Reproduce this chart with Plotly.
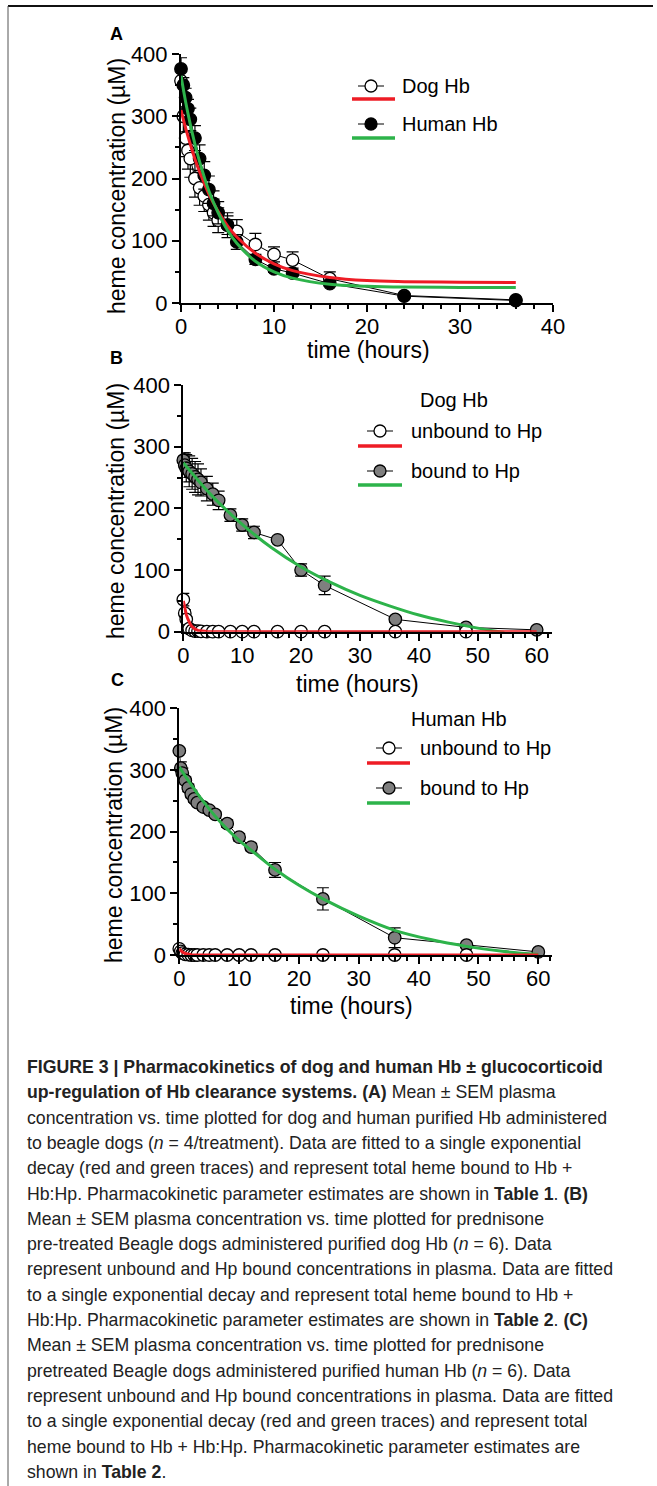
import plotly.graph_objects as go

W, H = 657, 1486
FONT = "Liberation Sans, Arial, Helvetica, sans-serif"

def px(x):
    return x / W

def py(y):
    return 1 - y / H

# ---------------- Panel A data ----------------
time_a = [0, 0.25, 0.5, 0.75, 1, 1.5, 2, 2.5, 3, 3.5, 4, 5, 6, 8, 10, 12, 16, 24, 36]
dog_a = [357, 300, 265, 245, 232, 200, 185, 172, 158, 145, 133, 125, 115, 94, 78, 69, 39, 12, 5]
dog_a_err = [20, 25, 30, 30, 30, 30, 28, 25, 25, 22, 20, 20, 19, 18, 12, 13, 11, 3, 2]
human_a = [376, 350, 330, 312, 295, 265, 232, 205, 182, 160, 145, 125, 98, 70, 55, 48, 31, 11, 4]
human_a_err = [18, 12, 15, 15, 18, 20, 22, 22, 22, 20, 18, 15, 12, 8, 6, 5, 4, 3, 2]
fit_time_a = [0, 0.5, 1, 1.5, 2, 3, 4, 5, 6, 8, 10, 12, 16, 20, 24, 30, 36]
fit_dog_a = [310, 281, 255, 231, 211, 175, 147, 124, 106, 80, 63, 52, 41, 36, 34.3, 33.4, 33]
fit_human_a = [365, 323, 287, 255, 227, 180, 145, 117, 96, 67, 50, 40, 30, 27, 25.6, 25, 25]

# ---------------- Panel B data (Dog Hb) ----------------
time_b = [0, 0.25, 0.5, 1, 1.5, 2, 2.5, 3, 4, 5, 6, 8, 10, 12, 16, 20, 24, 36, 48, 60]
bound_b = [278, 270, 265, 260, 256, 251, 247, 242, 232, 223, 213, 189, 173, 161, 149, 100, 75, 20, 7, 3]
bound_b_err = [12, 20, 22, 25, 25, 25, 25, 22, 20, 18, 15, 10, 10, 10, 4, 10, 15, 5, 3, 2]
time_b_unb = [0, 0.25, 0.5, 1, 1.5, 2, 2.5, 3, 4, 5, 6, 8, 10, 12, 16, 20, 24, 36, 48]
unbound_b = [52, 30, 20, 5, 2, 1, 1, 0.5, 0, 0, 0, 0, 0, 0, 0, 0, 0, 0, 0]
unbound_b_err = [10, 6, 5, 2, 1, 1, 1, 0.5, 0, 0, 0, 0, 0, 0, 0, 0, 0, 0, 0]
fit_time_b_unb = [0, 0.25, 0.5, 0.75, 1, 1.25, 1.5, 2, 2.5, 3, 4, 6, 60]
fit_unbound_b = [50, 38, 28, 21, 15, 11, 8, 4, 2, 1, 0.2, 0, 0]
fit_time_b = [0, 5, 10, 15, 20, 25, 30, 35, 40, 45, 50, 54.5]
fit_bound_b = [274, 219, 174, 136, 105, 80, 59, 42, 27, 15.5, 5.8, -1.4]

# ---------------- Panel C data (Human Hb) ----------------
time_c = [0, 0.25, 0.5, 1, 1.5, 2, 2.5, 3, 4, 5, 6, 8, 10, 12, 16, 24, 36, 48, 60]
bound_c = [331, 303, 295, 283, 271, 261, 253, 247, 240, 235, 228, 213, 191, 175, 138, 91, 28, 16, 5]
bound_c_err = [4, 10, 8, 6, 6, 6, 5, 5, 5, 5, 5, 6, 6, 6, 12, 18, 16, 3, 2]
time_c_unb = [0, 0.25, 0.5, 1, 1.5, 2, 2.5, 3, 4, 5, 6, 8, 10, 12, 16, 24, 36, 48]
unbound_c = [10, 6, 3, 1, 0.5, 0, 0, 0, 0, 0, 0, 0, 0, 0, 0, 0, 0, 0]
unbound_c_err = [3, 2, 1, 0.5, 0, 0, 0, 0, 0, 0, 0, 0, 0, 0, 0, 0, 0, 0]
fit_time_c_unb = [0, 0.25, 0.5, 1, 1.5, 2, 3, 60]
fit_unbound_c = [10, 7, 5, 2.5, 1.2, 0.6, 0.1, 0]
fit_time_c = [0, 1, 2, 3, 4, 5, 6, 8, 10, 12, 16, 20, 24, 30, 36, 42, 48, 54, 60]
fit_bound_c = [305, 290, 276, 262, 249, 237, 225, 204, 186, 170, 139, 113, 91, 63, 40, 25, 14, 6, 1]

RED = "#ee1c25"
GREEN = "#2db34a"
GRAY = "#7f7f7f"

fig = go.Figure()


def data_trace(x, y, err, fill, xa, ya):
    fig.add_trace(go.Scatter(
        x=x, y=y, mode="lines+markers", xaxis=xa, yaxis=ya, cliponaxis=False,
        line=dict(color="black", width=1),
        marker=dict(size=12.5, color=fill, line=dict(color="black", width=1.3)),
        error_y=dict(type="data", array=err, visible=True, color="black", thickness=1.2, width=6),
        showlegend=False))


def fit_trace(x, y, color, xa, ya, shape="spline"):
    fig.add_trace(go.Scatter(
        x=x, y=y, mode="lines", xaxis=xa, yaxis=ya,
        line=dict(color=color, width=3, shape=shape),
        showlegend=False))


# Panel A
data_trace(time_a, dog_a, dog_a_err, "white", "x", "y")
data_trace(time_a, human_a, human_a_err, "black", "x", "y")
fit_trace(fit_time_a, fit_dog_a, RED, "x", "y")
fit_trace(fit_time_a, fit_human_a, GREEN, "x", "y")

# Panel B
data_trace(time_b, bound_b, bound_b_err, GRAY, "x2", "y2")
data_trace(time_b_unb, unbound_b, unbound_b_err, "white", "x2", "y2")
fit_trace(fit_time_b, fit_bound_b, GREEN, "x2", "y2")
fit_trace(fit_time_b_unb, fit_unbound_b, RED, "x2", "y2", shape="linear")

# Panel C
data_trace(time_c, bound_c, bound_c_err, GRAY, "x3", "y3")
data_trace(time_c_unb, unbound_c, unbound_c_err, "white", "x3", "y3")
fit_trace(fit_time_c, fit_bound_c, GREEN, "x3", "y3")
fit_trace(fit_time_c_unb, fit_unbound_c, RED, "x3", "y3", shape="linear")


def xaxis_cfg(dom, rng, anchor):
    return dict(domain=[px(dom[0]), px(dom[1])], range=rng, anchor=anchor, automargin=False,
                showline=True, linecolor="black", linewidth=2, showgrid=False, zeroline=False,
                ticks="outside", ticklen=7, tickwidth=2, tickcolor="black",
                tickmode="linear", tick0=0, dtick=10, ticklabelstandoff=-4,
                minor=dict(ticks="outside", ticklen=4, tickwidth=2, tickcolor="black", dtick=2, showgrid=False),
                tickfont=dict(family=FONT, size=22, color="black"))


def yaxis_cfg(dom, anchor):
    return dict(domain=[py(dom[0]), py(dom[1])], range=[0, 400], anchor=anchor, automargin=False,
                showline=True, linecolor="black", linewidth=2, showgrid=False, zeroline=False,
                ticks="outside", ticklen=7, tickwidth=2, tickcolor="black",
                tickmode="linear", tick0=0, dtick=100,
                minor=dict(ticks="outside", ticklen=4, tickwidth=2, tickcolor="black", dtick=50, showgrid=False),
                tickfont=dict(family=FONT, size=22, color="black"))


annotations = []
shapes = []


def text(x, y, s, size, anchor="center", angle=0, color="black"):
    annotations.append(dict(x=px(x), y=py(y), xref="paper", yref="paper", text=s, showarrow=False,
                            xanchor=anchor, yanchor="middle", textangle=angle,
                            font=dict(family=FONT, size=size, color=color)))


def hline(x0, x1, y, color, width):
    shapes.append(dict(type="line", xref="paper", yref="paper", x0=px(x0), x1=px(x1),
                       y0=py(y), y1=py(y), line=dict(color=color, width=width)))


def legend_marker(cx, cy, fill):
    hline(cx - 13, cx + 13, cy, "black", 1)
    shapes.append(dict(type="circle", xref="paper", yref="paper", xsizemode="pixel", ysizemode="pixel",
                       xanchor=px(cx), yanchor=py(cy), x0=-6, x1=6, y0=-6, y1=6,
                       fillcolor=fill, line=dict(color="black", width=1.3)))


# Panel letters
text(116, 34, "<b>A</b>", 18)
text(116, 358, "<b>B</b>", 18)
text(117, 680, "<b>C</b>", 18)

# Axis titles
YT = "heme concentration (µM)"
text(117, 186, YT, 23, angle=-90)
text(116, 511, YT, 23, angle=-90)
text(114, 835, YT, 23, angle=-90)
text(368, 350, "time (hours)", 23)
text(357, 684, "time (hours)", 23)
text(351, 1006, "time (hours)", 23)

# Legend A
legend_marker(371, 86, "white")
text(400, 86, "Dog Hb", 20, anchor="left")
hline(352, 395, 99, RED, 3.5)
legend_marker(371, 124, "black")
text(400, 124, "Human Hb", 20, anchor="left")
hline(352, 395, 138, GREEN, 3.5)

# Legend B
text(454, 400, "Dog Hb", 20)
legend_marker(380, 431, "white")
text(409, 431, "unbound to Hp", 20, anchor="left")
hline(358, 402, 446, RED, 3.5)
legend_marker(380, 471, GRAY)
text(409, 471, "bound to Hp", 20, anchor="left")
hline(358, 402, 485, GREEN, 3.5)

# Legend C
text(459, 719, "Human Hb", 20)
legend_marker(389, 748, "white")
text(418, 748, "unbound to Hp", 20, anchor="left")
hline(367, 410, 763, RED, 3.5)
legend_marker(389, 788, GRAY)
text(418, 788, "bound to Hp", 20, anchor="left")
hline(367, 410, 803, GREEN, 3.5)

# Frame
shapes.append(dict(type="line", xref="paper", yref="paper", x0=px(8), x1=px(653), y0=py(6), y1=py(6),
                   line=dict(color="#111111", width=2)))
shapes.append(dict(type="line", xref="paper", yref="paper", x0=px(8), x1=px(8), y0=py(6), y1=py(1486),
                   line=dict(color="#555555", width=1)))

# Caption
caption = [
    "<b>FIGURE 3 | Pharmacokinetics of dog and human Hb ± glucocorticoid</b>",
    "<b>up-regulation of Hb clearance systems. (A)</b> Mean ± SEM plasma",
    "concentration vs. time plotted for dog and human purified Hb administered",
    "to beagle dogs (<i>n</i> = 4/treatment). Data are fitted to a single exponential",
    "decay (red and green traces) and represent total heme bound to Hb +",
    "Hb:Hp. Pharmacokinetic parameter estimates are shown in <b>Table 1</b>. <b>(B)</b>",
    "Mean ± SEM plasma concentration vs. time plotted for prednisone",
    "pre-treated Beagle dogs administered purified dog Hb (<i>n</i> = 6). Data",
    "represent unbound and Hp bound concentrations in plasma. Data are fitted",
    "to a single exponential decay and represent total heme bound to Hb +",
    "Hb:Hp. Pharmacokinetic parameter estimates are shown in <b>Table 2</b>. <b>(C)</b>",
    "Mean ± SEM plasma concentration vs. time plotted for prednisone",
    "pretreated Beagle dogs administered purified human Hb (<i>n</i> = 6). Data",
    "represent unbound and Hp bound concentrations in plasma. Data are fitted",
    "to a single exponential decay (red and green traces) and represent total",
    "heme bound to Hb + Hb:Hp. Pharmacokinetic parameter estimates are",
    "shown in <b>Table 2</b>.",
]
for i, line in enumerate(caption):
    text(25, 1067 + 25.3 * i, line, 17.7, anchor="left", color="#222222")

fig.update_layout(
    width=W, height=H, margin=dict(l=0, r=0, t=0, b=0, pad=0),
    paper_bgcolor="white", plot_bgcolor="white",
    showlegend=False,
    xaxis=xaxis_cfg((181, 553), [0, 40], "y"),
    yaxis=yaxis_cfg((303, 54), "x"),
    xaxis2=xaxis_cfg((183.3, 551.7), [0, 62.55], "y2"),
    yaxis2=yaxis_cfg((631.7, 385), "x2"),
    xaxis3=xaxis_cfg((179.3, 551.7), [0, 62.24], "y3"),
    yaxis3=yaxis_cfg((955, 708.3), "x3"),
    annotations=annotations, shapes=shapes,
)

fig.write_html(
    "out.html",
    config={"displayModeBar": False},
    post_script="document.body.style.margin='0';document.body.style.padding='0';"
                "document.body.style.overflow='hidden';",
)
